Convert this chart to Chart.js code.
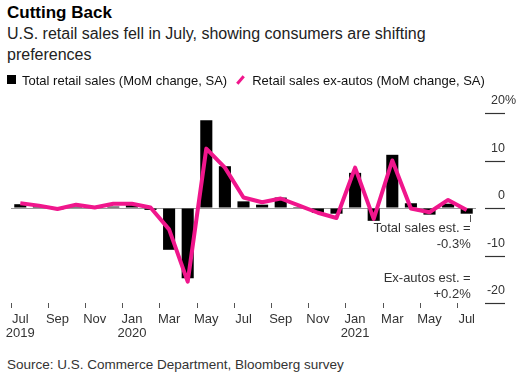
<!DOCTYPE html>
<html>
<head>
<meta charset="utf-8">
<script src="https://cdn.jsdelivr.net/npm/chart.js@4"></script>
<style>
  body { margin: 0; width: 527px; height: 384px; background: #fff; position: relative; overflow: hidden;
         font-family: "Liberation Sans", Arial, Helvetica, sans-serif; color: #222; }
  .abs { position: absolute; left: 7px; white-space: nowrap; }
  #title { top: 3px; font-size: 17px; font-weight: bold; line-height: 20px; color: #000; }
  #subtitle { top: 23px; font-size: 16px; line-height: 21px; white-space: normal; width: 460px; color: #222; }
  #legend { top: 72px; font-size: 13px; line-height: 16px; color: #111; z-index: 2; }
  #legend span { display: inline-block; vertical-align: middle; }
  .sq { width: 9px; height: 9px; background: #000; margin-right: 6px; margin-top: -2px; }
  .slash { width: 3px; height: 10px; background: #f0168c; transform: rotate(40deg); margin: -2px 10px 0 12px; }
  #source { top: 357px; font-size: 13.5px; line-height: 16px; color: #333; }
  #wrap { position: absolute; left: 0; top: 85px; width: 527px; height: 260px; }
</style>
</head>
<body>
<div id="title" class="abs">Cutting Back</div>
<div id="subtitle" class="abs">U.S. retail sales fell in July, showing consumers are shifting preferences</div>
<div id="wrap"><canvas id="chart"></canvas></div>
<div id="legend" class="abs"><span class="sq"></span><span>Total retail sales (MoM change, SA)</span><span class="slash"></span><span>Retail sales ex-autos (MoM change, SA)</span></div>
<div id="source" class="abs">Source: U.S. Commerce Department, Bloomberg survey</div>
<script>
const months = [
  ['Jul', '2019'], 'Aug', 'Sep', 'Oct', 'Nov', 'Dec',
  ['Jan', '2020'], 'Feb', 'Mar', 'Apr', 'May', 'Jun',
  'Jul', 'Aug', 'Sep', 'Oct', 'Nov', 'Dec',
  ['Jan', '2021'], 'Feb', 'Mar', 'Apr', 'May', 'Jun', 'Jul'
];
const totalSales = [0.8, 0.4, -0.3, 0.3, 0.2, 0.3, 0.6, -0.4, -8.8, -14.8, 18.5, 8.8,
  1.4, 0.7, 2.2, 0.2, -1.0, -1.2, 7.4, -2.7, 11.2, 1.0, -1.4, 0.9, -1.2];
const exAutos = [1.0, 0.5, -0.2, 0.7, 0.1, 0.9, 0.9, 0.1, -4.5, -15.5, 12.5, 8.5,
  2.2, 1.2, 2.0, 0.5, -1.0, -2.1, 8.5, -2.3, 10.0, -0.1, -0.9, 1.7, -0.4];
const yTicks = [20, 10, 0, -10, -20];
const notes = ['Total sales est. =', '-0.3%', 'Ex-autos est. =', '+0.2%'];

const PINK = '#f0168c';
const FONT = '"Liberation Sans", Arial, Helvetica, sans-serif';

// right-hand y labels with short rules, plus the estimate notes
const sideAxis = {
  id: 'sideAxis',
  afterDraw(chart) {
    const { ctx, scales: { x, y } } = chart;
    ctx.save();
    ctx.strokeStyle = '#333';
    ctx.lineWidth = 1.2;
    ctx.fillStyle = '#333';
    ctx.font = '12.5px ' + FONT;
    ctx.textBaseline = 'middle';
    yTicks.forEach((v, i) => {
      const py = Math.round(y.getPixelForValue(v)) + 0.5;
      ctx.beginPath();
      ctx.moveTo(485, py);
      ctx.lineTo(505, py);
      ctx.stroke();
      ctx.textAlign = 'right';
      ctx.fillText(String(v), 505, py - 12.5);
      if (i === 0) {
        ctx.textAlign = 'left';
        ctx.fillText('%', 505, py - 12.5);
      }
    });

    const last = x.getPixelForValue(months.length - 1);
    const zero = y.getPixelForValue(0);
    ctx.strokeStyle = '#555';
    ctx.lineWidth = 1;
    ctx.beginPath();
    ctx.moveTo(Math.round(last + 3) + 0.5, zero + 7);
    ctx.lineTo(Math.round(last + 3) + 0.5, zero + 14);
    ctx.stroke();

    ctx.font = '13px ' + FONT;
    ctx.textAlign = 'right';
    const offs = [20, 36, 70, 86];
    notes.forEach((t, i) => ctx.fillText(t, last + 4, zero + offs[i]));
    ctx.restore();
  }
};

new Chart(document.getElementById('chart'), {
  type: 'bar',
  data: {
    labels: months,
    datasets: [
      {
        type: 'line',
        label: 'Retail sales ex-autos (MoM change, SA)',
        data: exAutos,
        borderColor: PINK,
        borderWidth: 4,
        pointRadius: 0,
        tension: 0,
        borderJoinStyle: 'round',
        order: 0
      },
      {
        label: 'Total retail sales (MoM change, SA)',
        data: totalSales,
        backgroundColor: '#000',
        barPercentage: 0.65,
        categoryPercentage: 1,
        order: 1
      }
    ]
  },
  options: {
    responsive: true,
    maintainAspectRatio: false,
    animation: false,
    layout: { padding: { left: 11, right: 0, top: 28, bottom: 0 } },
    plugins: { legend: { display: false }, tooltip: { enabled: false } },
    scales: {
      x: {
        grid: {
          drawOnChartArea: false,
          drawTicks: true,
          tickLength: 5,
          color: (c) => (c.index % 2 === 0 ? '#555' : 'transparent')
        },
        border: { display: false },
        ticks: {
          autoSkip: false,
          maxRotation: 0,
          padding: 4,
          color: '#333',
          font: { family: FONT, size: 13, lineHeight: 1.1 },
          callback: function (v, i) { return i % 2 === 0 ? this.getLabelForValue(v) : ''; }
        },
        afterFit: (s) => { s.height = 42; }
      },
      y: {
        position: 'right',
        min: -20,
        max: 20,
        ticks: { display: false, stepSize: 10 },
        grid: {
          drawTicks: false,
          color: (c) => (c.tick && c.tick.value === 0 ? '#999' : 'transparent')
        },
        border: { display: false },
        afterFit: (s) => { s.width = 51; }
      }
    }
  },
  plugins: [sideAxis]
});
</script>
</body>
</html>
